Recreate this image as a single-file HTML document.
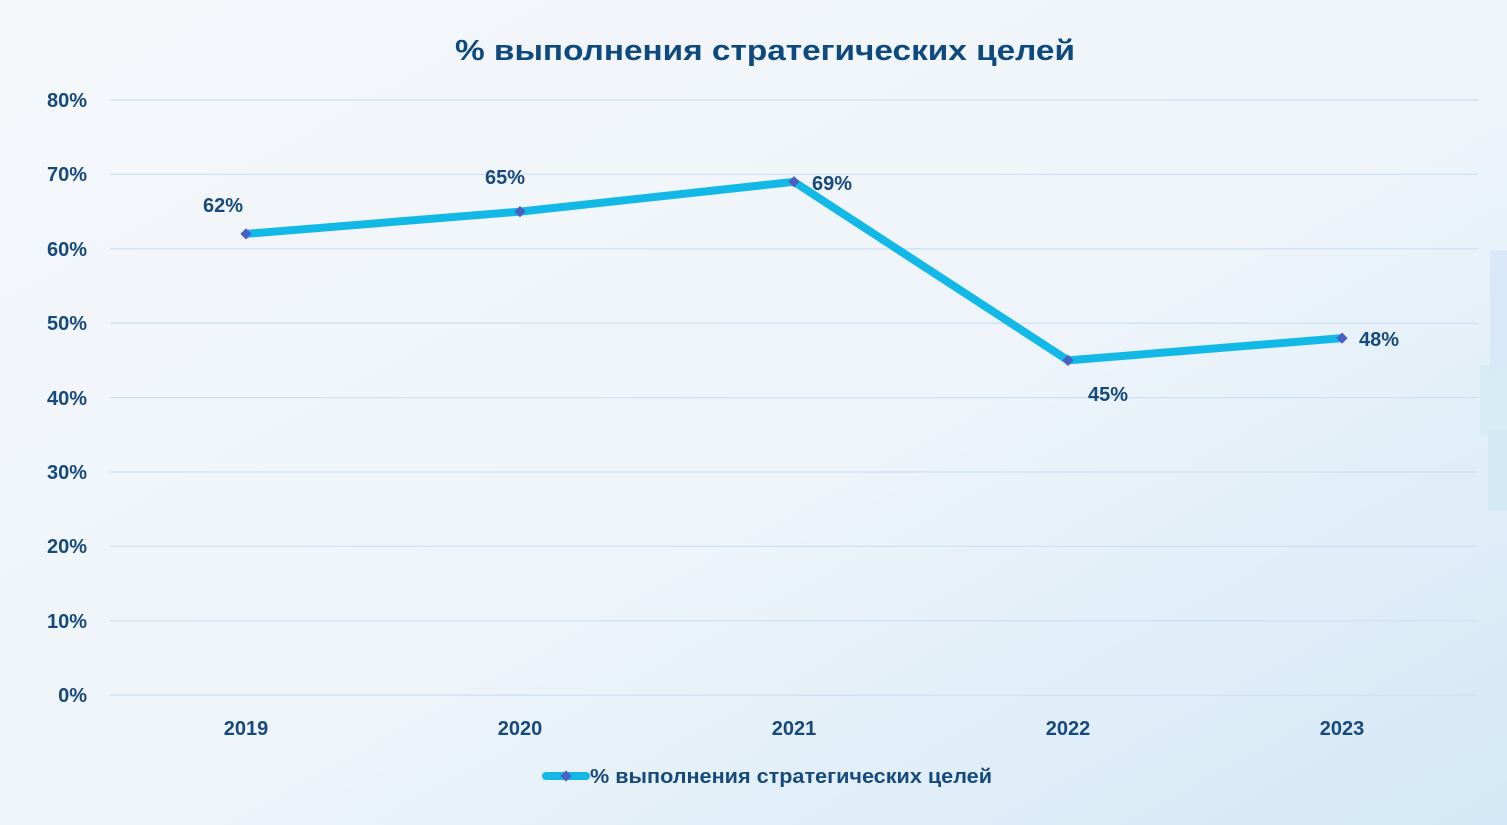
<!DOCTYPE html>
<html><head><meta charset="utf-8"><style>
html,body{margin:0;padding:0}
body{width:1507px;height:825px;overflow:hidden;background:linear-gradient(160deg,#f4f7fb 0%,#eef4fa 50%,#d9ebf7 100%);}
svg{display:block}
text{font-family:"Liberation Sans","DejaVu Sans",sans-serif;font-weight:bold;fill:#174a7c}
</style></head><body>
<svg width="1507" height="825" viewBox="0 0 1507 825" xmlns="http://www.w3.org/2000/svg">
<defs>
<linearGradient id="bg" x1="0" y1="0" x2="1" y2="1">
<stop offset="0" stop-color="#f5f8fb"/><stop offset="0.55" stop-color="#eef4fa"/><stop offset="1" stop-color="#d3e8f6"/>
</linearGradient>
</defs>
<rect width="1507" height="825" fill="url(#bg)"/>
<rect x="1490" y="250" width="17" height="120" fill="#d6e6f8" opacity="0.8"/>
<rect x="1480" y="365" width="27" height="70" fill="#d3ecf5" opacity="0.8"/>
<rect x="1488" y="430" width="19" height="80" fill="#d0e9f4" opacity="0.8"/>
<text x="765" y="60" font-size="29" text-anchor="middle" fill="#0e4a7e" textLength="620" lengthAdjust="spacingAndGlyphs" style="fill:#0e4a7e">% выполнения стратегических целей</text>
<g stroke="#cfe1f3" stroke-width="1.3">
<line x1="110" y1="100" x2="1478" y2="100"/>
<line x1="110" y1="174.4" x2="1478" y2="174.4"/>
<line x1="110" y1="248.8" x2="1478" y2="248.8"/>
<line x1="110" y1="323.2" x2="1478" y2="323.2"/>
<line x1="110" y1="397.6" x2="1478" y2="397.6"/>
<line x1="110" y1="472" x2="1478" y2="472"/>
<line x1="110" y1="546.4" x2="1478" y2="546.4"/>
<line x1="110" y1="620.8" x2="1478" y2="620.8"/>
<line x1="110" y1="695.2" x2="1478" y2="695.2"/>
</g>
<g font-size="20" text-anchor="end">
<text x="87" y="107">80%</text>
<text x="87" y="181">70%</text>
<text x="87" y="256">60%</text>
<text x="87" y="330">50%</text>
<text x="87" y="405">40%</text>
<text x="87" y="479">30%</text>
<text x="87" y="553">20%</text>
<text x="87" y="628">10%</text>
<text x="87" y="702">0%</text>
</g>
<g font-size="20" text-anchor="middle">
<text x="246" y="735">2019</text>
<text x="520" y="735">2020</text>
<text x="794" y="735">2021</text>
<text x="1068" y="735">2022</text>
<text x="1342" y="735">2023</text>
</g>
<polyline points="246,233.9 520,211.6 794,181.8 1068,360.4 1342,338.1" fill="none" stroke="#13b9e6" stroke-width="8" stroke-linejoin="round"/>
<g fill="#4a5fc1">
<rect x="242" y="229.9" width="8" height="8" transform="rotate(45 246 233.9)"/>
<rect x="516" y="207.6" width="8" height="8" transform="rotate(45 520 211.6)"/>
<rect x="790" y="177.8" width="8" height="8" transform="rotate(45 794 181.8)"/>
<rect x="1064" y="356.4" width="8" height="8" transform="rotate(45 1068 360.4)"/>
<rect x="1338" y="334.1" width="8" height="8" transform="rotate(45 1342 338.1)"/>
</g>
<g font-size="20">
<text x="223" y="212" text-anchor="middle">62%</text>
<text x="505" y="184" text-anchor="middle">65%</text>
<text x="812" y="190">69%</text>
<text x="1108" y="401" text-anchor="middle">45%</text>
<text x="1359" y="346">48%</text>
</g>
<line x1="546" y1="776" x2="586" y2="776" stroke="#13b9e6" stroke-width="8" stroke-linecap="round"/>
<rect x="562" y="772" width="8" height="8" fill="#4a5fc1" transform="rotate(45 566 776)"/>
<text x="590" y="783" font-size="20" textLength="402" lengthAdjust="spacingAndGlyphs">% выполнения стратегических целей</text>
</svg>
</body></html>
